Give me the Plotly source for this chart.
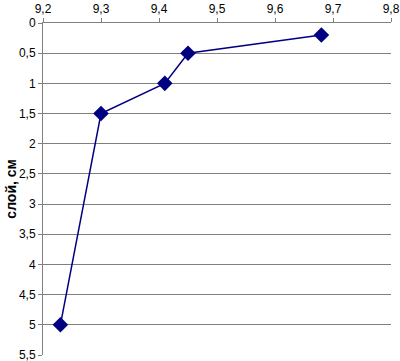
import plotly.graph_objects as go

x_vals = [9.68, 9.45, 9.41, 9.30, 9.23]
y_vals = [0.2, 0.5, 1.0, 1.5, 5.0]
x_ticks = [9.2, 9.3, 9.4, 9.5, 9.6, 9.7, 9.8]
x_tick_labels = ["9,2", "9,3", "9,4", "9,5", "9,6", "9,7", "9,8"]
y_ticks = [0, 0.5, 1, 1.5, 2, 2.5, 3, 3.5, 4, 4.5, 5, 5.5]
y_tick_labels = ["0", "0,5", "1", "1,5", "2", "2,5", "3", "3,5", "4", "4,5", "5", "5,5"]
y_title = "слой, см"

fig = go.Figure()
fig.add_trace(go.Scatter(
    x=x_vals, y=y_vals, mode="lines+markers",
    line=dict(color="#000080", width=1.5),
    marker=dict(symbol="diamond", size=12, color="#000080"),
    showlegend=False, cliponaxis=False,
))

fig.update_layout(
    width=400, height=361,
    margin=dict(l=43, r=9, t=23, b=6, autoexpand=False),
    paper_bgcolor="white", plot_bgcolor="white",
    font=dict(family="Liberation Sans, Arial, sans-serif", size=12, color="black"),
    xaxis=dict(
        side="top", range=[9.2, 9.8], tickvals=x_ticks, ticktext=x_tick_labels,
        showgrid=False, zeroline=False, showline=True, linecolor="#808080", linewidth=1,
        ticks="outside", ticklen=4, tickcolor="#808080", automargin=False,
        ticklabeloverflow="allow",
    ),
    yaxis=dict(
        range=[5.5, 0], tickvals=y_ticks, ticktext=y_tick_labels,
        showgrid=True, gridcolor="#808080", gridwidth=1,
        zeroline=False, showline=True, linecolor="#808080", linewidth=1,
        ticks="outside", ticklen=4, tickcolor="#808080", automargin=False,
        ticklabeloverflow="allow",
    ),
    annotations=[dict(
        text="<b>" + y_title + "</b>", xref="paper", yref="paper",
        x=-0.093, y=0.5, xanchor="center", yanchor="middle",
        textangle=-90, showarrow=False, font=dict(size=14),
    )],
)

fig.write_html("out.html", full_html=True,
               default_width="400px", default_height="361px",
               config={"displayModeBar": False})

# remove the default page margin so the figure sits at the window's top-left corner
with open("out.html", "r", encoding="utf-8") as f:
    html = f.read()
html = html.replace("<head>", "<head><style>html,body{margin:0;padding:0;overflow:hidden;}</style>", 1)
with open("out.html", "w", encoding="utf-8") as f:
    f.write(html)
